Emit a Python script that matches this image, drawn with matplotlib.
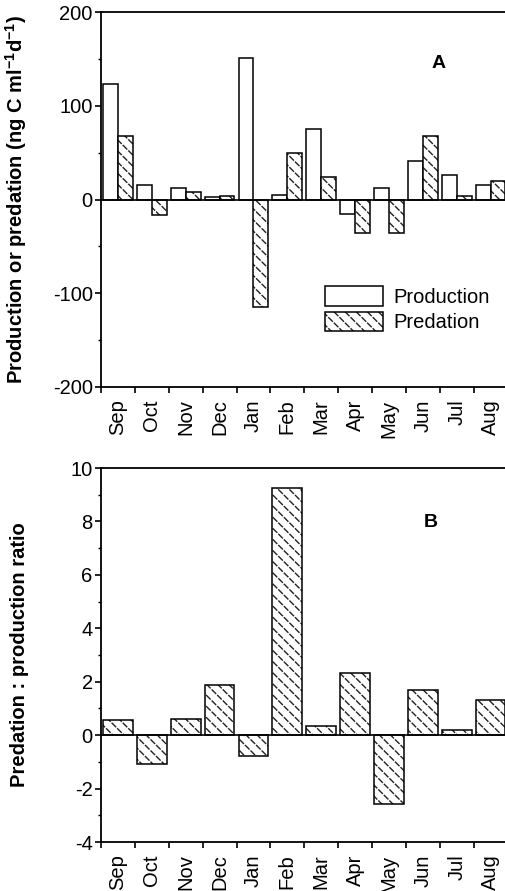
import numpy as np
import matplotlib
matplotlib.use('Agg')
import matplotlib.pyplot as plt

months = ['Sep', 'Oct', 'Nov', 'Dec', 'Jan', 'Feb', 'Mar', 'Apr', 'May', 'Jun', 'Jul', 'Aug']
production = [123, 15, 12, 2.5, 151, 4.7, 75, -15.6, 12.7, 41, 26, 15]
predation = [68, -16, 7.5, 3.5, -115, 50, 24, -36, -35.5, 68, 4, 20]
ratio = [0.56, -1.09, 0.6, 1.88, -0.79, 9.25, 0.34, 2.33, -2.59, 1.69, 0.19, 1.31]

plt.rcParams['font.family'] = ['Liberation Sans', 'DejaVu Sans']
plt.rcParams['axes.unicode_minus'] = False
plt.rcParams['mathtext.fontset'] = 'custom'
plt.rcParams['mathtext.bf'] = 'Liberation Sans:bold'
plt.rcParams['mathtext.rm'] = 'Liberation Sans:bold'
plt.rcParams['mathtext.default'] = 'bf'
plt.rcParams['hatch.linewidth'] = 1.0

FS = 14.5

fig = plt.figure(figsize=(5.06, 8.91), dpi=100)
W = 405 / 506
axA = fig.add_axes([101 / 506, 1 - 387 / 891, W + 0.003, 375 / 891])
axB = fig.add_axes([101 / 506, 1 - 842 / 891, W + 0.003, 374 / 891])

x = np.arange(len(months))


def textured_bar(ax, xpos, vals, width):
    # dashed-look texture: dark diagonal hatch, cut into dashes by a white cross hatch
    b1 = ax.bar(xpos, vals, width, color='white', edgecolor='#222222', lw=0,
                hatch='\\\\\\', zorder=2)
    b2 = ax.bar(xpos, vals, width, color='none', edgecolor='white', lw=0,
                hatch='///', zorder=3)
    b3 = ax.bar(xpos, vals, width, color='none', edgecolor='black', lw=1.1,
                zorder=4)
    return (b1[0], b2[0], b3[0])


def style(ax, ylim, major, minor):
    ax.set_xlim(-0.5, len(months) - 0.5)
    ax.set_ylim(*ylim)
    ax.axhline(0, color='black', lw=1.2, zorder=5)
    ax.spines['right'].set_visible(False)
    for s in ['left', 'bottom', 'top']:
        ax.spines[s].set_linewidth(1.3)
    ax.set_yticks(major)
    ax.set_yticks(minor, minor=True)
    ax.tick_params(axis='y', which='major', direction='out', length=4, width=1.2,
                   labelsize=FS, pad=2)
    ax.tick_params(axis='y', which='minor', direction='out', length=2.5, width=1.0)
    # ticks at month boundaries, labels centred in each month
    ax.set_xticks(np.arange(len(months) + 1) - 0.5)
    ax.set_xticklabels([])
    ax.set_xticks(x, minor=True)
    ax.set_xticklabels(months, minor=True, rotation=90, fontsize=FS)
    ax.tick_params(axis='x', which='major', direction='out', length=4, width=1.2)
    ax.tick_params(axis='x', which='minor', length=0, pad=9)


# Panel A
bw = 0.44
hp = axA.bar(x - bw / 2, production, bw, color='white', edgecolor='black', lw=1.1,
             zorder=2)
hd = textured_bar(axA, x + bw / 2, predation, bw)
style(axA, (-200, 200), [-200, -100, 0, 100, 200], [-150, -50, 50, 150])
axA.set_ylabel(r'Production or predation (ng C ml$^{-1}$d$^{-1}$)',
               fontsize=14.5, fontweight='bold')
axA.yaxis.set_label_coords(-0.178, 0.5)
axA.text(0.83, 0.864, 'A', transform=axA.transAxes, fontsize=14,
         fontweight='bold', ha='center', va='center')
axA.legend([hp[0], hd], ['Production', 'Predation'], loc='upper left',
           bbox_to_anchor=(0.53, 0.29), frameon=False,
           fontsize=FS, handlelength=2.9, handleheight=1.1, labelspacing=0.25,
           handletextpad=0.5, borderaxespad=0)

# Panel B
textured_bar(axB, x, ratio, 0.88)
style(axB, (-4, 10), [-4, -2, 0, 2, 4, 6, 8, 10], [-3, -1, 1, 3, 5, 7, 9])
axB.set_ylabel('Predation : production ratio', fontsize=14.5, fontweight='bold')
axB.yaxis.set_label_coords(-0.178, 0.5)
axB.text(0.812, 0.853, 'B', transform=axB.transAxes, fontsize=14,
         fontweight='bold', ha='center', va='center')

fig.savefig('out.png', dpi=100)
